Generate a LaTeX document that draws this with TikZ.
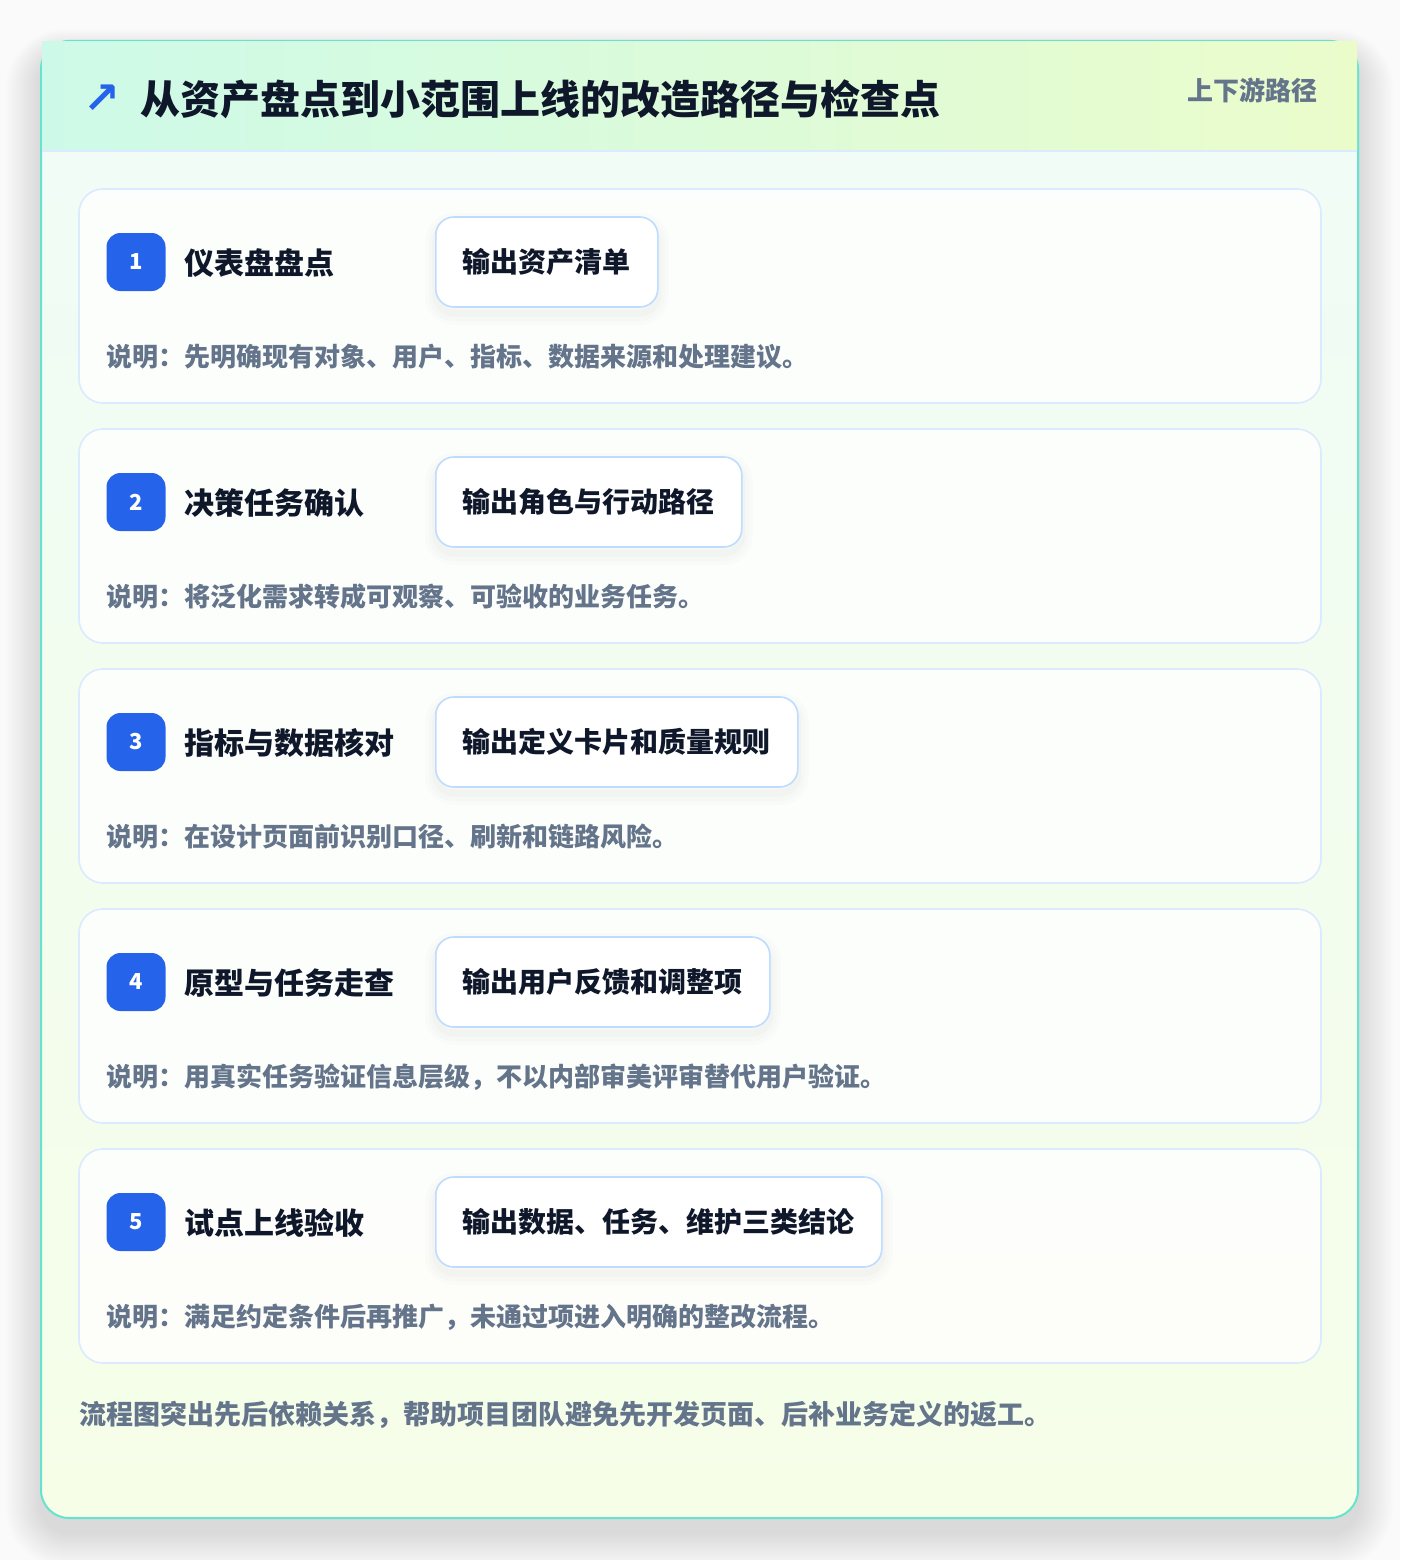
\documentclass[tikz,border=0pt]{standalone}
\usepackage{fontspec}
\setmainfont{Noto Sans CJK SC}
\newfontfamily\dejavu{DejaVu Sans}
\definecolor{pagebg}{HTML}{FAFAFA}
\definecolor{cardline}{HTML}{66E3CF}
\definecolor{cardtop}{HTML}{EFFCF6}
\definecolor{cardbot}{HTML}{F6FEE8}
\definecolor{hdrL}{HTML}{CDFAE8}
\definecolor{hdrR}{HTML}{EBFCCB}
\definecolor{hdrline}{HTML}{DBEAFE}
\definecolor{stepline}{HTML}{DBEAFE}
\definecolor{outline}{HTML}{BFDBFE}
\definecolor{badgec}{HTML}{2563EB}
\definecolor{darktext}{HTML}{0F172A}
\definecolor{graytext}{HTML}{64748B}
\tikzset{
  stepcard/.style={draw=stepline, line width=1.6pt, fill=white, fill opacity=0.8, draw opacity=1, rounded corners=24},
  badge/.style={fill=badgec, rounded corners=14, minimum width=59pt, minimum height=58pt, inner sep=0pt, text=white, font=\bfseries\fontsize{22}{22}\selectfont},
  steptitle/.style={anchor=west, inner sep=0pt, text=darktext, font=\bfseries\fontsize{30}{30}\selectfont},
  softshadow/.style={preaction={draw=black, draw opacity=0.010, line width=22pt, transform canvas={yshift=-7pt}},
                     preaction={draw=black, draw opacity=0.012, line width=14pt, transform canvas={yshift=-7pt}},
                     preaction={draw=black, draw opacity=0.014, line width=7pt, transform canvas={yshift=-6pt}}},
  outbox/.style={anchor=west, softshadow, draw=outline, line width=1.6pt, fill=white, rounded corners=18, minimum height=90pt, inner xsep=27pt, inner ysep=0pt, text=darktext, font=\bfseries\fontsize{28}{28}\selectfont},
  desc/.style={anchor=west, inner sep=0pt, text=graytext, font=\bfseries\fontsize{26}{26}\selectfont},
}
\begin{document}
\begin{tikzpicture}[x=1pt,y=-1pt]
\useasboundingbox (0,0) rectangle (1400,1560);
\fill[pagebg] (0,0) rectangle (1400,1560);
% card shadow
\foreach \i in {1,...,16} {
  \fill[black, opacity=0.006, rounded corners=28+\i*2]
    (41-\i*2.2, 41+14-\i*1.6) rectangle (1358+\i*2.2, 1518+14+\i*2.2);
}
% card
\draw[cardline, line width=2pt, rounded corners=28, top color=cardtop, bottom color=cardbot]
  (41,41) rectangle (1358,1518);
% header
\fill[left color=hdrL, right color=hdrR] (42,42) rectangle (1357,151);
\draw[hdrline, line width=1.6pt] (42,151) -- (1357,151);
\node[anchor=center, inner sep=0pt, text=badgec, font=\dejavu\bfseries\fontsize{44}{44}\selectfont] (icon) at (102,99) {↗};
\node[anchor=west, inner sep=0pt, text=darktext, font=\bfseries\fontsize{40}{40}\selectfont] (title) at (140,99) {从资产盘点到小范围上线的改造路径与检查点};
\node[anchor=east, inner sep=0pt, text=graytext, font=\bfseries\fontsize{26}{26}\selectfont] (tag) at (1318,90) {上下游路径};
% steps
\foreach \n/\t/\o/\d [count=\k from 0] in {
  1/仪表盘盘点/输出资产清单/说明：先明确现有对象、用户、指标、数据来源和处理建议。,
  2/决策任务确认/输出角色与行动路径/说明：将泛化需求转成可观察、可验收的业务任务。,
  3/指标与数据核对/输出定义卡片和质量规则/说明：在设计页面前识别口径、刷新和链路风险。,
  4/原型与任务走查/输出用户反馈和调整项/说明：用真实任务验证信息层级，不以内部审美评审替代用户验证。,
  5/试点上线验收/输出数据、任务、维护三类结论/说明：满足约定条件后再推广，未通过项进入明确的整改流程。} {
  \pgfmathsetmacro{\yy}{189+240*\k}
  \draw[stepcard] (79,\yy) rectangle (1321,\yy+214);
  \node[badge] (b\n) at (136,\yy+73) {\n};
  \node[steptitle] (t\n) at (184,\yy+74) {\t};
  \node[outbox] (o\n) at (435,\yy+73) {\o};
  \node[desc] (d\n) at (106,\yy+168) {\d};
}
\node[anchor=west, inner sep=0pt, text=graytext, font=\bfseries\fontsize{27}{27}\selectfont] (foot) at (79,1415) {流程图突出先后依赖关系，帮助项目团队避免先开发页面、后补业务定义的返工。};
\end{tikzpicture}
\end{document}
